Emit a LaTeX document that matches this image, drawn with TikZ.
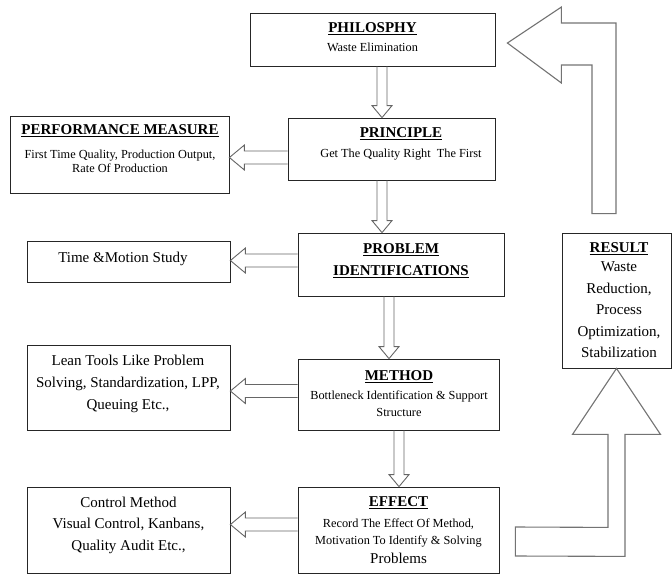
\documentclass[tikz,border=0pt]{standalone}
\usepackage{fontspec}
\setmainfont{Liberation Serif}
\usetikzlibrary{positioning,calc}

\newsavebox{\ttlbox}
\newcommand{\ttl}[1]{{\fontsize{15}{17}\selectfont\bfseries
  \sbox{\ttlbox}{#1}\rlap{\rule[-2.6pt]{\wd\ttlbox}{1.1pt}}\usebox{\ttlbox}}}
% down block arrow: #1 start coordinate, #2 target node
\newcommand{\vblock}[2]{%
  \draw[blockarrow] ($(#1)+(-5,0)$) -- ($(#1 |- #2.north)+(-5,-12)$) -- ++(-5,0)
    -- (#1 |- #2.north) -- ++(10,-12) -- ++(-5,0) -- ($(#1)+(5,0)$);}
% left block arrow: #1 start coordinate, #2 target node
\newcommand{\hblock}[2]{%
  \draw[blockarrow] ($(#1)+(0,-6.5)$) -- ($(#2.east |- #1)+(15,-6.5)$) -- ++(0,-6)
    -- (#2.east |- #1) -- ++(15,12.5) -- ++(0,-6) -- ($(#1)+(0,6.5)$);}

\begin{document}
\begin{tikzpicture}[x=1pt,y=-1pt,
  box/.style={draw=black!85, line width=0.8pt, inner sep=0pt},
  txt/.style={align=center, inner sep=0pt, font=\fontsize{12.3}{17}\selectfont},
  bigtxt/.style={txt, font=\fontsize{15}{21}\selectfont},
  blockarrow/.style={draw=black!60, line width=0.9pt},
  bigarrow/.style={draw=black!55, line width=1.1pt}]
\useasboundingbox (0,0) rectangle (672,576);

% main column
\node[box, minimum width=245pt, minimum height=53pt] (phil) at (372.5,39.5) {};
\node[box, minimum width=207pt, minimum height=62pt] (princ) at (391.5,149) {};
\node[box, minimum width=206pt, minimum height=63pt] (prob) at (401,264.5) {};
\node[box, minimum width=201pt, minimum height=71pt] (meth) at (398.5,394.5) {};
\node[box, minimum width=201pt, minimum height=86pt] (eff) at (398.5,530) {};

% side boxes
\node[box, minimum width=219pt, minimum height=77pt] (perf) at (119.5,154.5) {};
\node[box, minimum width=203pt, minimum height=41pt] (time) at (128.5,261.5) {};
\node[box, minimum width=203pt, minimum height=85pt] (lean) at (128.5,387.5) {};
\node[box, minimum width=203pt, minimum height=86pt] (ctrl) at (128.5,530) {};
\node[box, minimum width=109pt, minimum height=135pt] (res) at (616.5,300.5) {};

% texts
\node[txt, below=10pt of phil.north] (phil-t) {\ttl{PHILOSPHY}\\[2pt] Waste Elimination};
\node[txt, below=10pt of princ.north, xshift=9.5pt] (princ-t) {\ttl{PRINCIPLE}\\[3pt] Get The Quality Right\ \ The First};
\node[txt, below=11pt of prob.north] (prob-t) {\ttl{PROBLEM}\\[5pt] \ttl{IDENTIFICATIONS}};
\node[txt, below=12pt of meth.north, xshift=0.5pt] (meth-t) {\ttl{METHOD}\\[2pt] Bottleneck Identification \& Support\\ Structure};
\node[txt, below=10pt of eff.north] (eff-t) {\ttl{EFFECT}\\[4pt] Record The Effect Of Method,\\ Motivation To Identify \& Solving\\[2pt] {\fontsize{15}{17}\selectfont Problems}};
\node[txt, below=9pt of perf.north, xshift=0.5pt] (perf-t) {\ttl{PERFORMANCE MEASURE}\\[7pt] First\ Time Quality, Production Output,\\[-3pt] Rate Of Production};
\node[bigtxt, below=11pt of time.north, xshift=-5.5pt] (time-t) {Time \&Motion Study};
\node[bigtxt, below=10pt of lean.north, xshift=-0.5pt] (lean-t) {Lean Tools Like Problem\\[1pt] Solving, Standardization, LPP,\\[1pt] Queuing Etc.,};
\node[bigtxt, below=10pt of ctrl.north] (ctrl-t) {Control Method\\ Visual Control, Kanbans,\\[1pt] Quality Audit Etc.,};
\node[bigtxt, below=10pt of res.north, xshift=2.5pt] (res-t) {\ttl{RESULT}\\[-2pt] Waste\\[1pt] Reduction,\\ Process\\[1pt] Optimization,\\ Stabilization};

% block arrows down the column
\coordinate (a1) at ($(phil.south)+(9.5,0)$);
\coordinate (a2) at ($(princ.south)+(-9.5,0)$);
\coordinate (a3) at ($(prob.south)+(-12,0)$);
\coordinate (a4) at ($(meth.south)+(0.5,0)$);
\vblock{a1}{princ}
\vblock{a2}{prob}
\vblock{a3}{meth}
\vblock{a4}{eff}

% block arrows to the left
\coordinate (b1) at ($(princ.west)+(0,8.5)$);
\coordinate (b2) at ($(prob.west)+(0,-4)$);
\coordinate (b3) at ($(meth.west)+(0,-3.5)$);
\coordinate (b4) at ($(eff.west)+(0,-5.5)$);
\hblock{b1}{perf}
\hblock{b2}{time}
\hblock{b3}{lean}
\hblock{b4}{ctrl}

% effect to result
\coordinate (e1) at ($(eff.east)+(16,0)$);
\draw[bigarrow] ($(e1)+(0,-3)$) -- ($(res.south)+(-8.5,159)$) -- ($(res.south)+(-8.5,66)$)
  -- ($(res.south)+(-44,66)$) -- (res.south) -- ($(res.south)+(44,66)$)
  -- ($(res.south)+(8.5,66)$) -- ($(res.south)+(8.5,188)$) -- ($(e1)+(0,26)$) -- cycle;

% result back to philosophy
\coordinate (r1) at ($(res.north)+(-12.5,-19)$);
\coordinate (t1) at ($(phil.east)+(12,3.5)$);
\draw[bigarrow] ($(r1)+(-12,0)$) -- ($(r1 |- t1)+(-12,22)$) -- ($(t1)+(54,22)$)
  -- ($(t1)+(54,40)$) -- (t1) -- ($(t1)+(54,-36)$) -- ($(t1)+(54,-20)$)
  -- ($(r1 |- t1)+(12,-20)$) -- ($(r1)+(12,0)$) -- cycle;
\end{tikzpicture}
\end{document}
